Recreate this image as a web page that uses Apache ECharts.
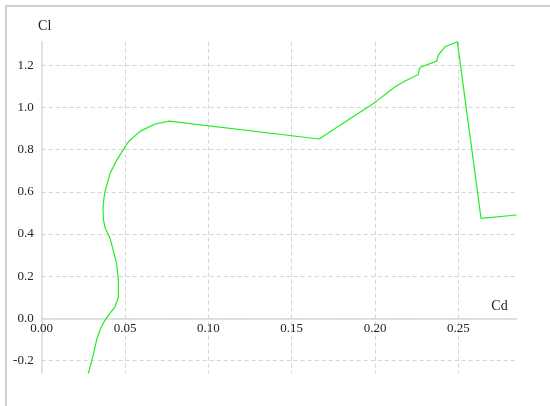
<!DOCTYPE html>
<html>
<head>
<meta charset="utf-8">
<script src="https://cdn.jsdelivr.net/npm/echarts@6/dist/echarts.min.js"></script>
<style>
  html, body { margin: 0; padding: 0; background: #fff; }
  #chart { width: 550px; height: 406px; }
</style>
</head>
<body>
<div id="chart"></div>
<script>
// Drag polar: lift coefficient (Cl) against drag coefficient (Cd)
const cd = [0.028, 0.031, 0.033, 0.035, 0.0378, 0.041, 0.044, 0.046, 0.046, 0.045,
            0.043, 0.041, 0.038, 0.037, 0.0368, 0.0372, 0.038, 0.041, 0.045, 0.049,
            0.052, 0.059, 0.068, 0.0766, 0.1664, 0.2006, 0.212, 0.218, 0.226, 0.2266,
            0.229, 0.237, 0.238, 0.242, 0.2494, 0.2636, 0.285];
const cl = [-0.26, -0.17, -0.10, -0.055, -0.01, 0.025, 0.055, 0.10, 0.18, 0.26,
            0.32, 0.38, 0.43, 0.47, 0.52, 0.56, 0.60, 0.687, 0.75, 0.80,
            0.837, 0.886, 0.921, 0.935, 0.850, 1.027, 1.098, 1.125, 1.156, 1.185,
            1.196, 1.219, 1.248, 1.287, 1.311, 0.474, 0.49];
const xName = 'Cd';
const yName = 'Cl';

const polar = cd.map((d, i) => [d, cl[i]]);

const serif = '"Liberation Serif", "Times New Roman", serif';
const labelColor = '#222';

// plot area
const gridTop = 41.7, gridBottom = 32.7, chartH = 406;
const plotH = chartH - gridTop - gridBottom;

// the x axis (line and labels) sits on Cl = 0, measured up from the plot's bottom edge
const clMin = Math.min(...cl), clMax = Math.max(...cl);
const zeroLift = (0 - clMin) / (clMax - clMin) * plotH;

const chart = echarts.init(document.getElementById('chart'), null, { renderer: 'canvas' });
chart.setOption({
  backgroundColor: '#fff',
  animation: false,
  graphic: [{
    type: 'rect',
    silent: true,
    shape: { x: 6, y: 6, width: 620, height: 480 },
    style: { fill: 'none', stroke: '#cfcfcf', lineWidth: 2 }
  }],
  grid: { left: 41.7, right: 33.3, top: gridTop, bottom: gridBottom, containLabel: false },
  xAxis: {
    type: 'value',
    position: 'bottom',
    offset: -zeroLift,
    min: 0,
    max: 'dataMax',
    splitNumber: 5,
    name: xName,
    nameLocation: 'end',
    nameGap: -9,
    nameTextStyle: {
      fontFamily: serif, fontSize: 14, color: labelColor,
      align: 'right', verticalAlign: 'bottom', padding: [0, 0, 5, 0]
    },
    axisLine: { show: true, onZero: false, lineStyle: { color: '#d9d9d9', width: 1.5 } },
    axisTick: { show: false },
    axisLabel: {
      fontFamily: serif, fontSize: 13, color: labelColor, margin: 4,
      showMinLabel: true, showMaxLabel: false,
      formatter: v => v.toFixed(2)
    },
    splitLine: {
      show: true, showMinLine: false, showMaxLine: false,
      lineStyle: { color: '#d4d4d4', type: [4, 3], width: 1 }
    }
  },
  yAxis: {
    type: 'value',
    min: 'dataMin',
    max: 'dataMax',
    splitNumber: 8,
    name: yName,
    nameLocation: 'end',
    nameGap: 8,
    nameTextStyle: { fontFamily: serif, fontSize: 14, color: labelColor, padding: [0, 0, 0, 6] },
    axisLine: { show: true, lineStyle: { color: '#d9d9d9', width: 1.5 } },
    axisTick: { show: false },
    axisLabel: {
      fontFamily: serif, fontSize: 13, color: labelColor, margin: 8,
      showMinLabel: false, showMaxLabel: false,
      formatter: v => v.toFixed(1)
    },
    splitLine: {
      show: true, showMinLine: false, showMaxLine: false,
      lineStyle: { color: '#d4d4d4', type: [4, 3], width: 1 }
    }
  },
  series: [{
    type: 'line',
    data: polar,
    showSymbol: false,
    smooth: false,
    lineStyle: { color: '#22ee22', width: 1.2 }
  }]
});
</script>
</body>
</html>
